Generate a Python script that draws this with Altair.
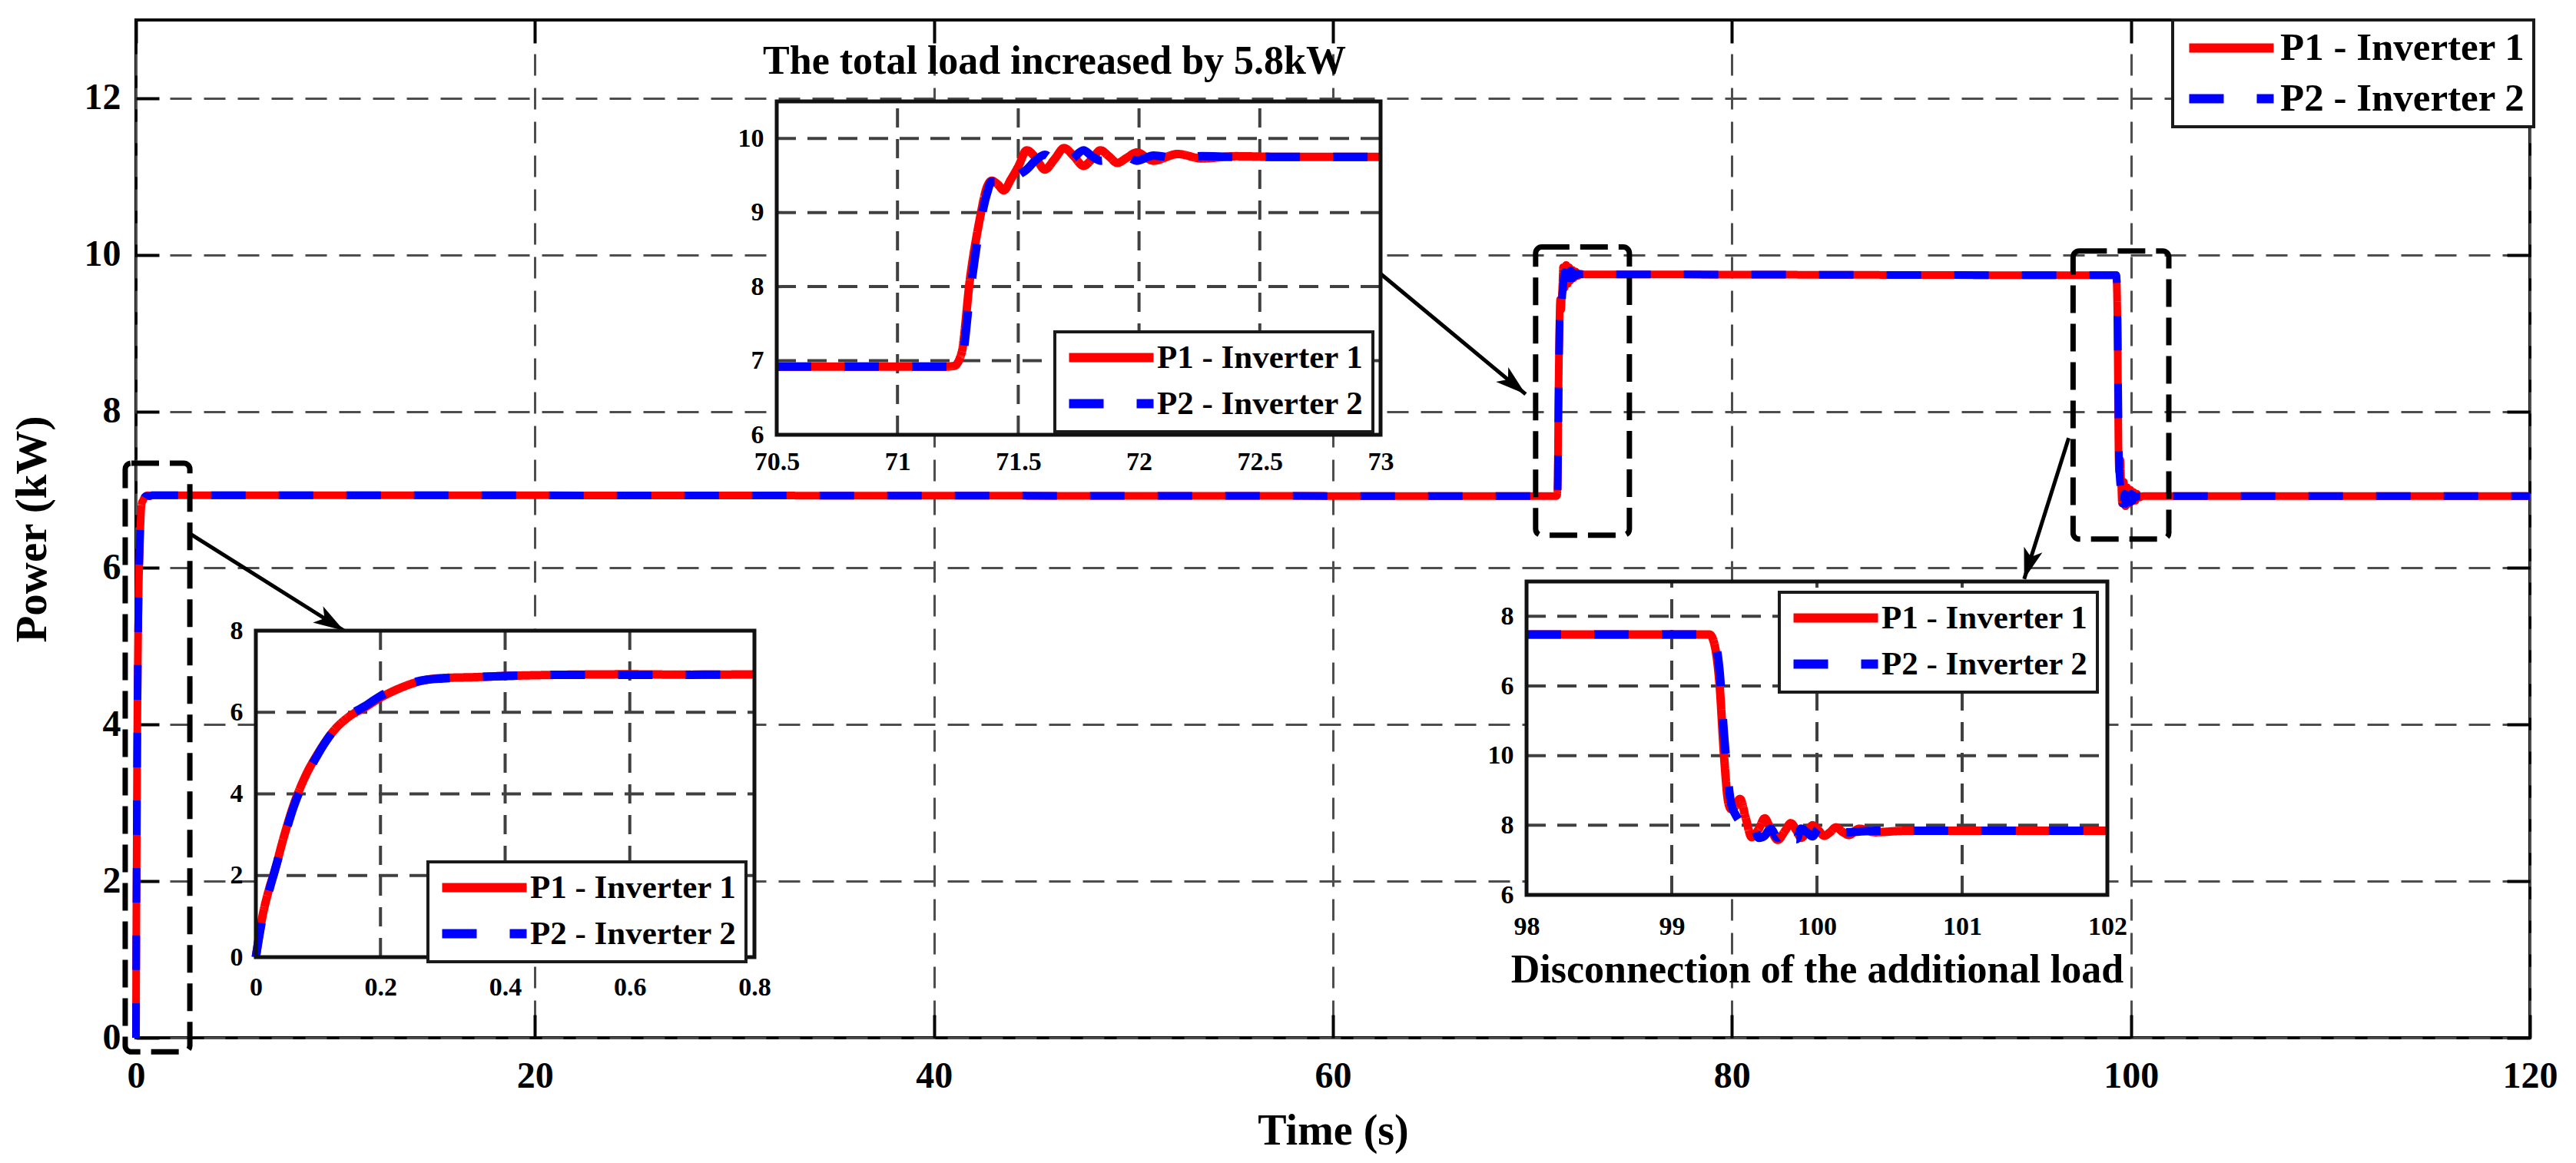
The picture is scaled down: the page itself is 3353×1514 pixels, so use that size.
import altair as alt
import pandas as pd

S1 = "P1 - Inverter 1"
S2 = "P2 - Inverter 2"
FONT = "Liberation Serif"

# ---------------- data ----------------
# start-up transient (inset 1, 0 .. 0.8 s)
start_t = [0.0, 0.01, 0.02, 0.03, 0.045, 0.06, 0.08, 0.1, 0.125, 0.15, 0.175, 0.2,
           0.225, 0.25, 0.275, 0.3, 0.35, 0.4, 0.5, 0.6, 0.7, 0.8]
start_p1 = [0.0, 0.95, 1.6, 2.1, 2.95, 3.7, 4.45, 5.0, 5.55, 5.9, 6.12, 6.36,
            6.55, 6.7, 6.8, 6.84, 6.86, 6.89, 6.92, 6.93, 6.92, 6.93]
start_p2 = [0.0, 0.9, 1.55, 2.1, 2.9, 3.65, 4.4, 4.98, 5.55, 5.92, 6.15, 6.4,
            6.58, 6.72, 6.8, 6.83, 6.86, 6.89, 6.92, 6.92, 6.92, 6.93]

# load step-up (inset 2, 70.5 .. 73 s)
up_t = [70.5, 71.0, 71.2, 71.235, 71.265, 71.3, 71.34, 71.37, 71.39, 71.415, 71.44,
        71.47, 71.5, 71.535, 71.57, 71.61, 71.65, 71.69, 71.73, 71.77, 71.805, 71.84,
        71.875, 71.91, 71.95, 71.99, 72.06, 72.16, 72.26, 72.4, 72.6, 73.0]
up_p1 = [6.92, 6.92, 6.92, 6.93, 7.1, 8.1, 8.9, 9.34, 9.43, 9.38, 9.3,
         9.45, 9.62, 9.84, 9.75, 9.58, 9.72, 9.87, 9.76, 9.63, 9.72, 9.84,
         9.76, 9.67, 9.74, 9.81, 9.7, 9.79, 9.73, 9.76, 9.75, 9.75]
up_p2 = [6.92, 6.92, 6.92, 6.92, 7.0, 7.9, 8.8, 9.25, 9.42, 9.42, 9.35,
         9.38, 9.5, 9.58, 9.7, 9.78, 9.68, 9.62, 9.74, 9.84, 9.76, 9.7,
         9.72, 9.8, 9.76, 9.7, 9.77, 9.73, 9.76, 9.75, 9.75, 9.75]

# load step-down (inset 3, 98 .. 102 s)
down_t = [98.0, 99.0, 99.26, 99.29, 99.33, 99.36, 99.39, 99.41, 99.44, 99.47, 99.51,
          99.55, 99.6, 99.64, 99.68, 99.73, 99.78, 99.82, 99.86, 99.89, 99.93, 99.97,
          100.01, 100.05, 100.09, 100.13, 100.18, 100.22, 100.29, 100.4, 100.6, 101.0, 102.0]
down_p1 = [9.74, 9.74, 9.74, 9.63, 9.0, 8.0, 7.32, 7.23, 7.28, 7.38, 7.1,
           6.83, 6.95, 7.1, 6.95, 6.79, 6.92, 7.03, 6.92, 6.82, 6.9, 7.0,
           6.93, 6.85, 6.9, 6.97, 6.9, 6.86, 6.95, 6.9, 6.92, 6.92, 6.92]
down_p2 = [9.74, 9.74, 9.74, 9.68, 9.2, 8.3, 7.6, 7.3, 7.15, 7.05, 6.95,
           7.05, 6.82, 6.85, 6.95, 6.82, 7.0, 6.85, 6.8, 6.95, 6.9, 6.84,
           6.95, 6.88, 6.86, 6.93, 6.9, 6.9, 6.91, 6.92, 6.92, 6.92, 6.92]

end_t = [120.0]
end_p = [6.92]

main_x_ticks = [0, 20, 40, 60, 80, 100, 120]
main_y_ticks = [0, 2, 4, 6, 8, 10, 12]
i1_x_ticks = [0, 0.2, 0.4, 0.6, 0.8]
i1_y_ticks = [0, 2, 4, 6, 8]
i2_x_ticks = [70.5, 71, 71.5, 72, 72.5, 73]
i2_y_ticks = [6, 7, 8, 9, 10]
i3_x_ticks = [98, 99, 100, 101, 102]
i3_y_ticks = [6, 7, 8, 9, 10]
i3_y_labels = ["6", "8", "10", "6", "8"]

# dashed zoom boxes on the main plot (time / power corners)
box_t0 = [-0.54, 70.16, 97.1]
box_t1 = [2.7, 74.86, 101.9]
box_p0 = [-0.18, 6.42, 6.37]
box_p1 = [7.34, 10.1, 10.05]

# arrows (start -> tip, main-plot coordinates) and head angles
arrow_t0 = [2.7, 62.38, 96.88]
arrow_p0 = [6.44, 9.76, 7.66]
arrow_t1 = [10.43, 69.66, 94.65]
arrow_p1 = [5.2, 8.22, 5.86]
arrow_ang = [122, 130, 197]

TITLE2 = "The total load increased by 5.8kW"
TITLE3 = "Disconnection of the additional load"
title2_t = [71.65]
title2_p = [11.04]

# ---------------- layout ----------------
W, H = 3116, 1325
NUMFMT = ".6~g"


def sc(dom, rng=None):
    if rng is None:
        return alt.Scale(domain=dom, nice=False, zero=False)
    return alt.Scale(domain=dom, range=rng, nice=False, zero=False)


MXs = sc([0, 120])
MYs = sc([0, 13])

COLOR = alt.Scale(domain=[S1, S2], range=["#ff0000", "#0000ff"])
DASH = alt.Scale(domain=[S1, S2], range=[[1, 0], [45, 43]])
LEG_SYMBOL = "M-3.667,0L3.667,0"   # 110 px long line at symbolSize 900


def series_df(t, a, b):
    return pd.DataFrame({"t": t + t, "p": a + b, "s": [S1] * len(t) + [S2] * len(t)})


def legend(x, y, fs, pad, rowpad):
    return alt.Legend(orient="none", legendX=x, legendY=y, title=None,
                      symbolType=LEG_SYMBOL, symbolSize=900, symbolStrokeWidth=12,
                      symbolOffset=40, labelOffset=38,
                      labelFont=FONT, labelFontSize=fs, labelFontWeight="bold",
                      labelColor="black", labelLimit=1000,
                      fillColor="white", strokeColor="#1a1a1a",
                      padding=pad, rowPadding=rowpad)


def lines(df, xs, ys, sw, leg, xax, yax):
    return alt.Chart(df).mark_line(strokeWidth=sw, interpolate="monotone").encode(
        x=alt.X("t:Q", scale=xs, axis=xax),
        y=alt.Y("p:Q", scale=ys, axis=yax),
        color=alt.Color("s:N", scale=COLOR, legend=leg),
        strokeDash=alt.StrokeDash("s:N", scale=DASH, legend=leg),
    )


# ---------------- main plot ----------------
main_df = series_df(start_t + up_t + down_t + end_t,
                    start_p1 + up_p1 + down_p1 + end_p,
                    start_p2 + up_p2 + down_p2 + end_p)

main_x_axis = alt.Axis(values=main_x_ticks, format=NUMFMT, grid=True, gridDash=[28, 16],
                       gridColor="#4d4d4d", gridWidth=3, gridOpacity=1, domain=False,
                       ticks=False, labelFont=FONT, labelFontSize=48, labelFontWeight="bold",
                       labelColor="black", labelPadding=26, labelFlush=False,
                       labelOverlap=False, title="Time (s)", titleFont=FONT,
                       titleFontSize=56, titleFontWeight="bold", titleColor="black",
                       titlePadding=20)
main_y_axis = alt.Axis(values=main_y_ticks, format=NUMFMT, grid=True, gridDash=[28, 16],
                       gridColor="#4d4d4d", gridWidth=3, gridOpacity=1, domain=False,
                       ticks=False, labelFont=FONT, labelFontSize=48, labelFontWeight="bold",
                       labelColor="black", labelPadding=20, labelFlush=False,
                       labelOverlap=False, title="Power (kW)", titleFont=FONT,
                       titleFontSize=57, titleFontWeight="bold", titleColor="black",
                       titlePadding=38)

L_main = lines(main_df, MXs, MYs, 10, legend(2651, 0, 51, 11, 14), main_x_axis, main_y_axis)


def tick_axis(orient, offset, values):
    return alt.Axis(orient=orient, offset=offset, values=values, labels=False, domain=False,
                    grid=False, ticks=True, tickSize=30, tickWidth=4, tickColor="black",
                    title=None)


box_df = pd.DataFrame({"t0": box_t0, "t1": box_t1, "p0": box_p0, "p1": box_p1})
L_boxes = alt.Chart(box_df).mark_rect(fillOpacity=0, stroke="black", strokeWidth=7,
                                      strokeDash=[36, 14], cornerRadius=8).encode(
    x=alt.X("t0:Q", scale=MXs, axis=tick_axis("top", -H, main_x_ticks)),
    x2="t1:Q",
    y=alt.Y("p0:Q", scale=MYs, axis=tick_axis("right", -W, main_y_ticks)),
    y2="p1:Q",
)

arrow_df = pd.DataFrame({"t0": arrow_t0, "p0": arrow_p0, "t1": arrow_t1,
                         "p1": arrow_p1, "ang": arrow_ang})
L_arrows = alt.Chart(arrow_df).mark_rule(color="black", strokeWidth=5).encode(
    x=alt.X("t0:Q", scale=MXs, axis=tick_axis("bottom", -H, main_x_ticks)),
    x2="t1:Q",
    y=alt.Y("p0:Q", scale=MYs, axis=tick_axis("left", -W, main_y_ticks)),
    y2="p1:Q",
)
ARROW = "M0,0 L-0.5,1.6 L0,1.2 L0.5,1.6 Z"
L_heads = alt.Chart(arrow_df).mark_point(shape=ARROW, filled=True, color="black",
                                         size=2500, opacity=1, strokeWidth=0).encode(
    x=alt.X("t1:Q", scale=MXs, axis=None),
    y=alt.Y("p1:Q", scale=MYs, axis=None),
    angle=alt.Angle("ang:Q", scale=None),
)


# ---------------- insets ----------------
def inset(t, a, b, xdom, xrng, ydom, yrng, xticks, yticks, xoff, yoff, leg,
          xpad, xtitle=None, ylabels=None):
    xs = sc(xdom, xrng)
    ys = sc(ydom, yrng)
    box = pd.DataFrame({"x0": [xdom[0]], "x1": [xdom[1]], "y0": [ydom[0]], "y1": [ydom[1]]})
    enc = dict(x=alt.X("x0:Q", scale=xs, axis=None), x2="x1:Q",
               y=alt.Y("y0:Q", scale=ys, axis=None), y2="y1:Q")
    bg = alt.Chart(box).mark_rect(fill="white").encode(**enc)
    frame = alt.Chart(box).mark_rect(fillOpacity=0, stroke="#111111", strokeWidth=5).encode(**enc)
    vg = pd.DataFrame({"x": xticks, "y0": [ydom[0]] * len(xticks), "y1": [ydom[1]] * len(xticks)})
    hg = pd.DataFrame({"y": yticks, "x0": [xdom[0]] * len(yticks), "x1": [xdom[1]] * len(yticks)})
    gstyle = dict(color="#404040", strokeWidth=4, strokeDash=[25, 15])
    vgrid = alt.Chart(vg).mark_rule(**gstyle).encode(
        x=alt.X("x:Q", scale=xs, axis=None), y=alt.Y("y0:Q", scale=ys, axis=None), y2="y1:Q")
    hgrid = alt.Chart(hg).mark_rule(**gstyle).encode(
        y=alt.Y("y:Q", scale=ys, axis=None), x=alt.X("x0:Q", scale=xs, axis=None), x2="x1:Q")
    xkw = dict(orient="bottom", offset=xoff, values=xticks, format=NUMFMT, grid=False,
               domain=False, ticks=False, labelFont=FONT, labelFontSize=34,
               labelFontWeight="bold", labelColor="black", labelPadding=xpad,
               labelFlush=False, labelOverlap=False)
    if xtitle:
        xkw.update(title=xtitle, titleFont=FONT, titleFontSize=52, titleFontWeight="bold",
                   titleColor="black", titlePadding=14)
    else:
        xkw.update(title=None)
    ykw = dict(orient="left", offset=yoff, values=yticks, format=NUMFMT, grid=False,
               domain=False, ticks=False, labelFont=FONT, labelFontSize=34,
               labelFontWeight="bold", labelColor="black", labelPadding=17,
               labelFlush=False, labelOverlap=False, title=None)
    if ylabels:
        arr = "[" + ",".join("'%s'" % s for s in ylabels) + "]"
        ykw.update(labelExpr=arr + "[datum.value - %d]" % yticks[0])
    ln = lines(series_df(t, a, b), xs, ys, 11, leg, alt.Axis(**xkw), alt.Axis(**ykw))
    return [bg, vgrid, hgrid, ln, frame], xs, ys


ins1, _, _ = inset(start_t, start_p1, start_p2, [0, 0.8], [156, 805], [0, 8], [1220, 795],
                   i1_x_ticks, i1_y_ticks, -105, -156, legend(380, 1096, 43, 12, 11), 22)
ins2, I2X, I2Y = inset(up_t, up_p1, up_p2, [70.5, 73], [834, 1620], [6, 10.5], [540, 106],
                       i2_x_ticks, i2_y_ticks, -785, -834, legend(1196, 406, 43, 12, 11), 18)
ins3, _, _ = inset(down_t, down_p1, down_p2, [98, 102], [1810, 2566], [6, 10.5], [1139, 731],
                   i3_x_ticks, i3_y_ticks, -186, -1810, legend(2139, 745, 43, 12, 11), 24,
                   xtitle=TITLE3, ylabels=i3_y_labels)

title_df = pd.DataFrame({"x": title2_t, "y": title2_p, "txt": [TITLE2]})
L_title = alt.Chart(title_df).mark_text(font=FONT, fontSize=52, fontWeight="bold",
                                        color="black", align="center",
                                        baseline="middle").encode(
    x=alt.X("x:Q", scale=I2X, axis=None),
    y=alt.Y("y:Q", scale=I2Y, axis=None),
    text="txt:N",
)

layers = [L_main, L_boxes, L_arrows, L_heads] + ins1 + ins2 + [L_title] + ins3

chart = alt.layer(*layers).resolve_scale(
    x="independent", y="independent", color="independent", strokeDash="independent"
).properties(
    width=W, height=H,
    padding={"left": 169, "top": 18, "right": 40, "bottom": 154},
    autosize=alt.AutoSizeParams(type="none"),
    background="white",
).configure_view(stroke="black", strokeWidth=4).configure_legend(strokeWidth=4)

chart.save("out.html", embed_options={"renderer": "svg", "actions": False})
